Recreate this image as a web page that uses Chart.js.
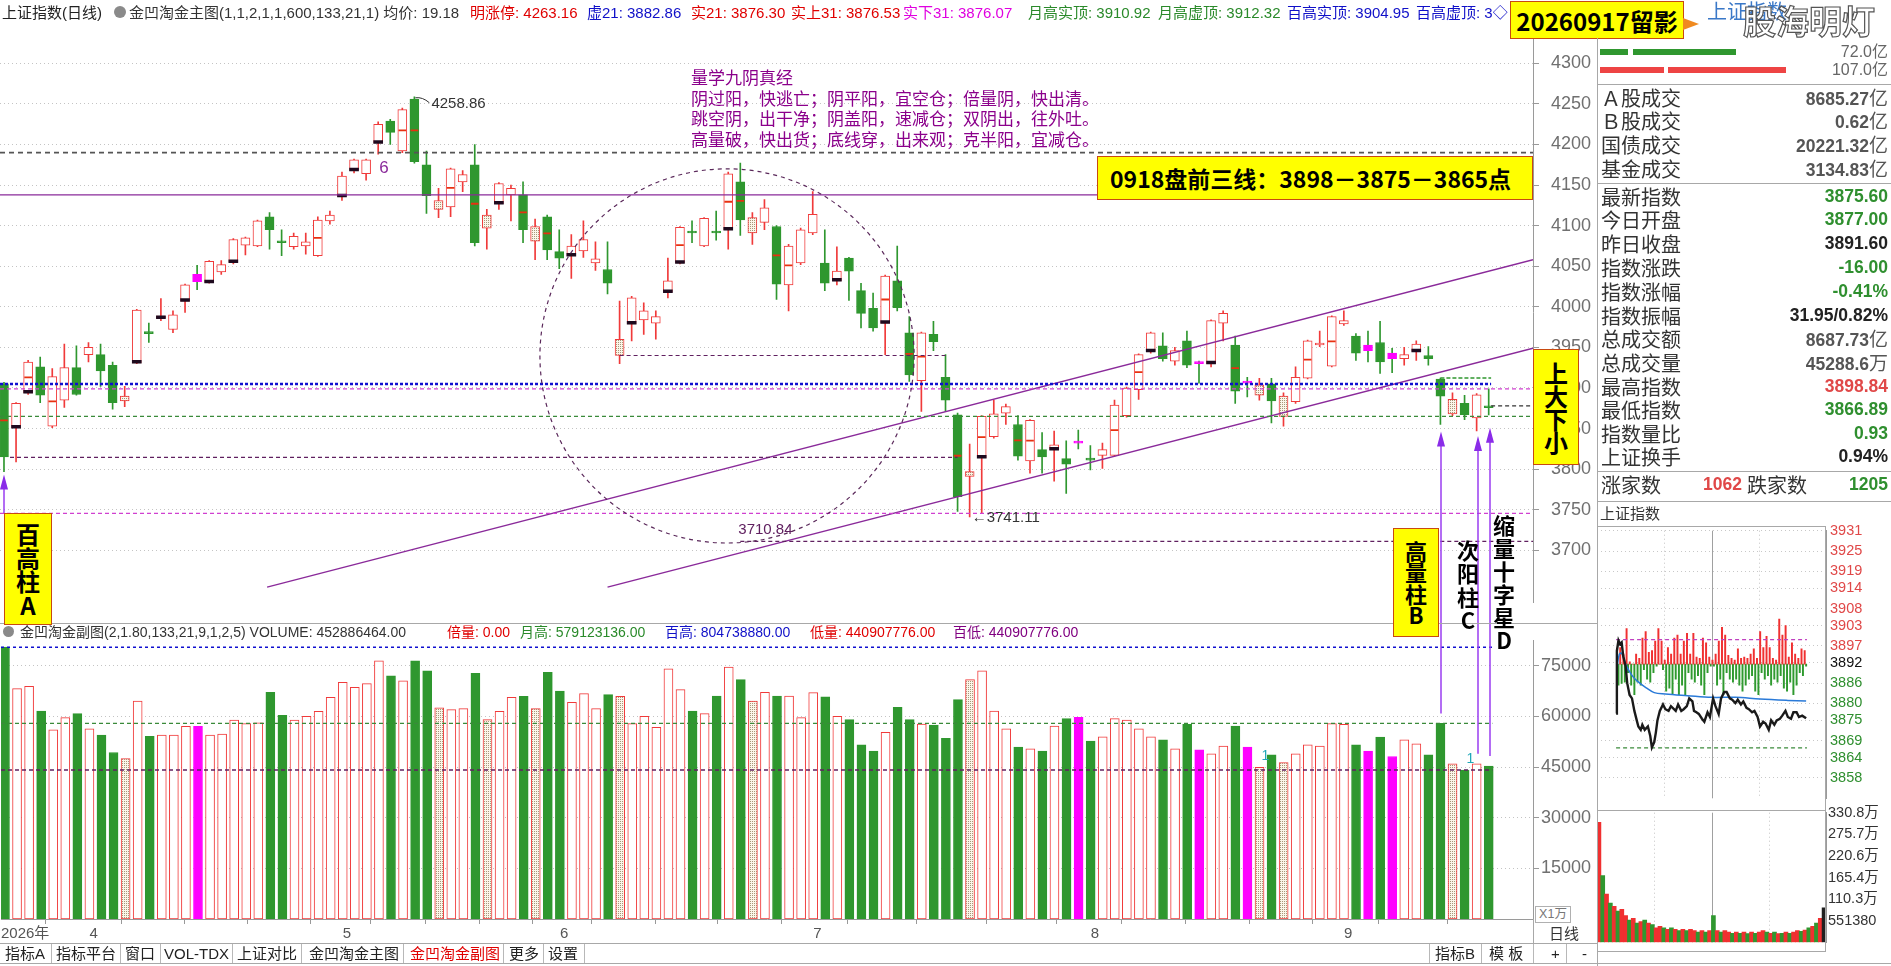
<!DOCTYPE html>
<html>
<head>
<meta charset="utf-8">
<title>上证指数(日线)</title>
<script src="https://cdn.jsdelivr.net/npm/chart.js@4.4.1/dist/chart.umd.min.js"></script>
<style>
  html, body { margin:0; padding:0; background:#fff; }
  body { width:1891px; height:966px; overflow:hidden; position:relative;
         font-family:"Liberation Sans","Noto Sans CJK SC",sans-serif; color:#333; }
  canvas { position:absolute; }
  .t { position:absolute; white-space:nowrap; line-height:1; transform:translateY(-50%); }
  .ln { position:absolute; background:#a8a8a8; }
  .ybox { position:absolute; background:#ffff00; border:1.5px solid #c84a10; box-sizing:border-box;
          font-family:"Noto Sans CJK SC",sans-serif; font-weight:bold; color:#000;
          display:flex; flex-direction:column; align-items:center; justify-content:center; }
  .vtxt { position:absolute; font-family:"Noto Sans CJK SC",sans-serif; font-weight:bold; color:#000;
          text-align:center; display:flex; flex-direction:column; align-items:center; }
</style>
</head>
<body>
<canvas id="main" width="1597" height="625" style="left:0;top:0"></canvas>
<canvas id="vol" width="1597" height="320" style="left:0;top:625px"></canvas>
<canvas id="intra" width="294" height="293" style="left:1597px;top:518px"></canvas>
<canvas id="intraVol" width="294" height="151" style="left:1597px;top:802px"></canvas>
<canvas id="over" width="1891" height="966" style="left:0;top:0"></canvas>
<div id="ui"></div>
<script>
// ---------- daily bars (上证指数 日线), 124 trading days ----------
const openP = [3905,3851,3894,3926,3853,3885,3925,3941,3941,3928,3884,3931,3969,3986,3972,4007,4040,4030,4043,4055,
  4076,4075,4111,4081,4074,4075,4063,4106,4136,4168,4164,4202,4229,4192,4256,4175,4120,4123,4154,4175,
  4097,4127,4138,4138,4081,4111,4068,4063,4069,4054,4046,3940,3979,3984,3980,4018,4054,4093,4075,4093,
  4095,4154,4091,4104,4099,4027,4054,4091,4054,4032,4060,4020,3998,3980,4032,3968,3909,3966,3913,3867,
  3791,3814,3840,3869,3855,3810,3824,3824,3813,3834,3813,3817,3817,3866,3898,3945,3952,3933,3958,3932,
  3930,3980,3953,3908,3891,3905,3865,3883,3912,3953,3927,3979,3964,3953,3956,3943,3936,3945,3940,3911,
  3868,3881,3863,3877];
const highP = [3907,3882,3934,3938,3924,3954,3952,3956,3954,3932,3902,3997,3980,4010,3995,4028,4051,4057,4057,4084,
  4086,4107,4116,4095,4091,4091,4111,4118,4166,4182,4182,4228,4231,4245,4258.86,4192,4146,4171,4168,4200,
  4120,4153,4150,4154,4108,4113,4095,4089,4106,4080,4080,4007,4013,4005,3995,4060,4099,4106,4110,4118,
  4166,4177,4116,4132,4100,4077,4097,4142,4095,4074,4061,4029,4017,4039,4075,3988,3969,3982,3941,3869,
  3831,3866,3885,3880,3866,3861,3845,3847,3835,3848,3829,3832,3885,3901,3942,3969,3968,3950,3970,3933,
  3984,3995,3964,3913,3912,3912,3894,3926,3959,3970,3989,3995,3967,3970,3982,3949,3950,3958,3951,3912.3,
  3894,3891,3893,3898.84];
const lowP = [3797,3809,3892,3882,3851,3876,3891,3932,3902,3874,3877,3930,3956,3983,3968,3993,4021,4029,4040,4053,
  4064,4074,4071,4063,4071,4065,4062,4102,4131,4165,4156,4188,4200,4190,4177,4115,4110,4111,4142,4075,
  4071,4120,4106,4079,4058,4058,4047,4035,4061,4045,4016,3930,3958,3966,3960,4011,4053,4079,4074,4082,
  4071,4088,4077,4095,4009,3995,4052,4089,4020,4027,4008,3974,3970,3941,3995,3908,3871,3946,3871,3748,
  3741.11,3745,3838,3855,3811,3795,3795,3785,3770,3825,3799,3801,3816,3864,3886,3943,3933,3928,3925,3906,
  3926,3958,3881,3889,3885,3857,3853,3881,3911,3951,3926,3977,3934,3932,3918,3919,3928,3934,3928,3855,
  3866,3861,3847,3866.89];
const closeP = [3815,3881,3932,3891,3914,3925,3892,3950,3921,3882,3890,3996,3967,3988,3990,4027,4031,4056,4052,4083,
  4085,4106,4095,4079,4087,4080,4107,4113,4161,4181,4181,4225,4215,4243,4179,4137,4131,4170,4163,4079,
  4113,4152,4146,4095,4099,4070,4060,4075,4083,4059,4029,3960,4011,3995,3988,4032,4098,4091,4109,4091,
  4164,4107,4110,4122,4028,4075,4095,4114,4029,4044,4044,3992,3974,4038,3999,3916,3968,3957,3885,3766,
  3797,3865,3868,3877,3816,3860,3815,3830,3806,3832,3811,3824,3879,3900,3941,3968,3936,3946,3928,3930,
  3983,3992,3896,3906,3904,3884,3890,3913,3958,3955,3988,3983,3943,3946,3932,3936,3941,3954,3936,3890,
  3886,3867,3891.6,3875.6];
// volume, unit 万股 (X1万)
const volume = [80474,68220,68900,61580,56030,59600,60790,56330,54450,49300,47520,64550,54050,54450,54450,57020,57020,54450,54750,58900,
  57820,58110,67120,60290,58900,60000,61480,65640,70090,68600,69700,76420,71960,70480,76420,73450,62550,61970,62260,72760,
  59010,61480,65640,65930,62260,73060,67510,64150,66730,62260,66430,65930,57820,60000,56730,74050,67910,61580,60790,66030,
  74550,70880,64550,67120,66030,66030,59600,67020,65740,60000,59010,51580,49700,55240,62670,59010,57720,57420,53460,64940,
  70880,73450,61580,56330,50880,50390,49700,57130,59300,59700,52660,53960,59300,58900,56330,53960,53070,50390,57620,50100,
  48910,51180,57130,50880,44940,48610,46330,48910,51580,51180,57820,57620,51580,49700,53860,48110,53070,51880,48610,57912,
  45940,44091,45940,45289];
const magentaIdx = [16, 89, 99, 103, 113, 115];
const dottedIdx = [10, 36, 40, 44, 51, 62, 80, 104, 106, 120];
const blackIdx = [1, 2, 11, 13, 15, 17, 19, 28, 29, 31, 41, 47, 52, 55, 56, 60, 69, 73, 81, 87, 95, 100, 117];
const midIdx = [0, 2, 4, 26, 33, 34, 37, 39, 43, 45, 56, 60, 61, 64, 65, 73, 75, 76, 79, 81, 84, 85, 92, 94, 102, 108, 110];

const monthStart = [7, 28, 46, 67, 90, 111];
const monthLabel = ['4', '5', '6', '7', '8', '9'];
const weekTicks = [12.3, 17.5, 22.7, 32.6, 37.1, 41.5, 51.3, 56.5, 61.7, 72.7, 78.5, 84.3, 95.1, 100.6, 105.8, 116.7];
const priceTicks = [4300, 4250, 4200, 4150, 4100, 4050, 4000, 3950, 3900, 3850, 3800, 3750, 3700];
const volTicks = [15000, 30000, 45000, 60000, 75000];

// reference levels on the price panel
const levelVal  = [4190, 4138, 3904.95, 3899, 3865, 3814.5, 3745.5, 3710.84, 3940, 3912.32, 3878];
const levelFrom = [-0.33, -0.33, -0.33, -0.33, -0.33, 0.5, -0.33, 61, 51, 119, 123.2];
const levelTo   = [126.67, 126.67, 123.2, 126.67, 126.67, 79, 126.67, 126.67, 78, 123.2, 126.67];
const chanUpper = [[21.8, 3654.6], [126.67, 4058]];
const chanLower = [[50.0, 3654.6], [126.67, 3949]];
const circleC = [59.9, 3939.5], circleR = 15.5;
const volLevelVal = [80474, 57912, 44091];
const volMarkIdx = [104, 121];
const arrowIdx = [0, 119, 122, 123];

// ---------- intraday (分时) ----------
const prevClose = 3891.6;
const intraMin = [0,1,3,5,7,9,12,14,17,20,23,26,28,31,33,36,40,43,45,48,50,52,55,59,62,66,69,75,78,82,85,89,92,96,98,101,104,108,111,115,118,
  122,125,129,132,136,139,143,146,150,153,157,160,164,167,171,174,178,181,185,188,192,195,199,202,206,209,213,216,220,223,227,230,234,239];
const intraPrice = [3877.0,3895.5,3898.6,3897.5,3898.0,3894.0,3891.0,3886.0,3882.5,3881.5,3877.8,3875.0,3873.2,3872.2,3873.7,3872.2,3873.2,3870.4,3867.0,3868.6,
  3871.4,3875.0,3877.8,3879.7,3878.3,3877.8,3879.2,3877.8,3879.7,3877.8,3878.3,3879.2,3881.5,3880.6,3877.8,3877.4,3876.9,3875.5,3874.6,3877.4,
  3876.0,3881.5,3879.2,3876.9,3881.5,3883.4,3883.4,3881.5,3881.1,3880.1,3881.1,3879.7,3880.6,3878.7,3878.3,3877.4,3877.8,3876.0,3873.2,3874.6,
  3874.1,3872.2,3875.0,3873.7,3875.0,3875.5,3876.4,3877.8,3876.0,3875.5,3877.4,3877.4,3876.0,3876.4,3875.6];
const intraAvgMin = [1,4,7,13,20,27,38,48,62,90,120,150,181,216,239];
const intraAvg = [3890,3894.5,3894.8,3891.1,3888.3,3886.5,3884.6,3883.2,3882.8,3882.3,3881.8,3881.8,3881.3,3880.9,3880.7];
const breadthUp = [0,4.9,3,10.5,0.7,0,3,1.7,7.7,9.6, 3.5,4,6.8,10.5,6.8,1.2,4.9,3,7.7,8.6, 3,6.8,9.1,3,9.1,2.1,1.7,7.7,6.3,2.1,
  1.2,3,6.8,10.9,8.6,2.6,1.7,1.2,4.5,1.7, 2.1,1.7,3,4.5,1.7,9.6,4.9,8.2,4.9,1.7, 1.2,13.3,8.6,11.4,2.1,6.3,3,1.7,4.5,4];
const breadthDn = [-6.2,-5.7,-5.3,-2.5,-6.2,-9,-5.3,-6.2,-1.6,-4.4, -5.3,-2.5,-0.6,0,-1.6,-8,-7.1,-9,-4.4,-9, -6.2,-9,-2.5,-4.4,-5.3,-3.4,-6.2,-9,-2.5,-0.6,
  -0.6,-6.2,-4.4,-9,-2.5,-4.4,-5.3,-4.4,-6.2,-8, -6.2,-4.4,-3.4,-8,-9,-2.5,-4.4,-3.4,-6.2,-4.4, -5.3,-3.4,-7.1,-8,-5.3,-9,-6.2,-2.5,-3.4,-0.6];
const intraVol = [306,170,123,100,92,80,84,68,57,61, 49,53,57,49,45,37,41,37,33,37, 33,30,33,30,33,30,26,30,26,30,
  68,30,26,30,26,23,26,23,26,22, 26,23,26,30,26,23,26,22,23,26, 23,26,30,28,31,37,41,49,61,88];
const intraVolKind = 'rgrgrgrrgr' + 'grgrgrrgrg' + 'rgrgrrgrgr' + 'grgrrgrgrg' + 'rgrrgrgrgr' + 'grrgrgrgrk';
const intraTicks = [3931,3925,3919,3914,3908,3903,3897,3892,3886,3880,3875,3869,3864,3858];
const intraVolTicks = [330.8, 275.7, 220.6, 165.4, 110.3, 55.138];
const intraVolLabels = ['330.8万','275.7万','220.6万','165.4万','110.3万','551380'];
const dayHigh = 3898.84, dayLow = 3866.89;

// ---------- styles ----------
const RED = '#f03a3a', GREEN = '#2f972f', MAG = '#ff00ff', PURPLE = '#8a2a9a';
Chart.defaults.font.family = '"Liberation Sans","Noto Sans CJK SC",sans-serif';
Chart.defaults.animation = false;
Chart.defaults.events = [];
Chart.defaults.plugins.legend.display = false;
Chart.defaults.plugins.tooltip.enabled = false;

function dotPattern() {
  const c = document.createElement('canvas'); c.width = 2; c.height = 2;
  const g = c.getContext('2d');
  g.fillStyle = '#fbf6ea'; g.fillRect(0, 0, 2, 2);
  g.fillStyle = '#a8987a'; g.fillRect(0, 0, 1, 1);
  return g.createPattern(c, 'repeat');
}
const dots = dotPattern();
const idx = openP.map((_, i) => i);
const kinds = idx.map(i => magentaIdx.includes(i) ? 'm' : dottedIdx.includes(i) ? 'd' : (closeP[i] >= openP[i] ? 'r' : 'g'));
const fillOf = { r: '#ffffff', g: GREEN, m: MAG, d: dots };
const lineOf = { r: RED, g: GREEN, m: MAG, d: RED };
const wickOf = i => kinds[i] === 'g' || (kinds[i] === 'm' && closeP[i] < openP[i]) ? GREEN : (kinds[i] === 'm' ? MAG : RED);

const levelStyle = [
  { c: '#555555', w: 1.6, d: [5, 4] },
  { c: PURPLE,    w: 1.3, d: [] },
  { c: '#1010d0', w: 2.5, d: [3, 2] },
  { c: '#d040d0', w: 1.3, d: [4, 3] },
  { c: '#3a8a3a', w: 1.3, d: [4, 3] },
  { c: '#602060', w: 1.3, d: [4, 3] },
  { c: '#d040d0', w: 1.3, d: [4, 3] },
  { c: '#602060', w: 1.3, d: [4, 3] },
  { c: '#602060', w: 1.2, d: [4, 3] },
  { c: '#2f972f', w: 1.6, d: [4, 2] },
  { c: '#333333', w: 1.2, d: [4, 3] }
];
const volLevelStyle = [
  { c: '#1010d0', w: 1.6, d: [3, 3] },
  { c: '#3a8a3a', w: 1.3, d: [4, 3] },
  { c: '#602060', w: 1.6, d: [4, 3] }
];
const seg = (pts, st, extra) => Object.assign({ type: 'line', data: pts.map(p => ({ x: p[0], y: p[1] })),
  borderColor: st.c, borderWidth: st.w, borderDash: st.d, pointRadius: 0, order: 0 }, extra || {});

// ---------- main price chart ----------
const mainDatasets = [
  { type: 'bar', data: idx.map(i => ({ x: i, y: [lowP[i], highP[i]] })), backgroundColor: idx.map(wickOf),
    barThickness: 1, grouped: false, order: 5 },
  { type: 'bar', data: idx.map(i => ({ x: i, y: [Math.min(openP[i], closeP[i]), Math.max(openP[i], closeP[i])] })),
    backgroundColor: idx.map(i => fillOf[kinds[i]]), borderColor: idx.map(i => lineOf[kinds[i]]),
    borderWidth: 1, borderSkipped: false, barThickness: 9, minBarLength: 2, grouped: false, order: 4 },
  { type: 'bar', data: blackIdx.map(i => { const b = Math.min(openP[i], closeP[i]); return { x: i, y: [b - 0.5, b + 3] }; }),
    backgroundColor: '#1e0a1e', barThickness: 9, grouped: false, order: 3 },
  { type: 'bar', data: midIdx.map(i => { const m = (openP[i] + closeP[i]) / 2; return { x: i, y: [m - 0.7, m + 0.7] }; }),
    backgroundColor: '#e83010', barThickness: 7, grouped: false, order: 3 }
];
levelVal.forEach((v, k) => mainDatasets.push(seg([[levelFrom[k], v], [levelTo[k], v]], levelStyle[k])));
mainDatasets.push(seg(chanUpper, { c: PURPLE, w: 1.3, d: [] }));
mainDatasets.push(seg(chanLower, { c: PURPLE, w: 1.3, d: [] }));

const mainNotes = {
  id: 'mainNotes',
  afterDatasetsDraw(chart) {
    const { ctx, chartArea: a, scales: { x, y } } = chart;
    ctx.save();
    ctx.beginPath(); ctx.rect(a.left, a.top, a.right - a.left, a.bottom - a.top); ctx.clip();
    const cx = x.getPixelForValue(circleC[0]), cy = y.getPixelForValue(circleC[1]);
    const r = x.getPixelForValue(circleC[0] + circleR) - cx;
    ctx.setLineDash([4, 4]); ctx.strokeStyle = '#5a285a'; ctx.lineWidth = 1.2;
    ctx.beginPath(); ctx.arc(cx, cy, r, 0, Math.PI * 2); ctx.stroke();
    ctx.setLineDash([]);
    ctx.textBaseline = 'middle'; ctx.fillStyle = '#333'; ctx.strokeStyle = '#333'; ctx.lineWidth = 1;
    ctx.font = '15px "Liberation Sans"';
    // peak
    const pk = highP.indexOf(Math.max(...highP));
    const hx = x.getPixelForValue(pk), hy = y.getPixelForValue(highP[pk]);
    ctx.beginPath(); ctx.moveTo(hx + 1, hy + 1); ctx.quadraticCurveTo(hx + 8, hy, hx + 15, hy + 6); ctx.stroke();
    ctx.fillText(highP[pk].toFixed(2), hx + 17, hy + 7);
    // trough
    const lo = lowP.indexOf(Math.min(...lowP));
    const lx = x.getPixelForValue(lo), ly = y.getPixelForValue(lowP[lo]);
    ctx.fillText('←' + lowP[lo].toFixed(2), lx + 2, ly + 1);
    // channel low
    ctx.fillStyle = '#602060';
    ctx.fillText(levelVal[7].toFixed(2), x.getPixelForValue(levelFrom[7]) - 2, y.getPixelForValue(levelVal[7]) - 12);
    ctx.fillStyle = PURPLE; ctx.font = '17px "Liberation Sans"';
    ctx.fillText('6', x.getPixelForValue(31) + 1, y.getPixelForValue(lowP[31]) + 14);
    ctx.restore();
  }
};

const mainChart = new Chart(document.getElementById('main'), {
  type: 'bar',
  data: { datasets: mainDatasets },
  options: {
    responsive: false,
    layout: { padding: { top: 22, bottom: 3, left: 0, right: 0 } },
    scales: {
      x: { type: 'linear', min: -0.33, max: 126.67, offset: false, display: false },
      y: { type: 'linear', position: 'right', min: 3636, max: 4350,
        afterFit: s => { s.width = 64; },
        afterBuildTicks: s => { s.ticks = priceTicks.map(v => ({ value: v })); },
        ticks: { crossAlign: 'near', padding: 12, color: '#707070', font: { size: 18 }, callback: v => String(v) },
        grid: { color: '#c4c4c4', tickLength: 6, tickColor: '#999' },
        border: { color: '#9a9a9a', dash: [1, 3] } }
    }
  },
  plugins: [mainNotes]
});

// ---------- volume chart ----------
const volDatasets = [
  { type: 'bar', data: idx.map(i => ({ x: i, y: volume[i] })), backgroundColor: idx.map(i => fillOf[kinds[i]]),
    borderColor: idx.map(i => lineOf[kinds[i]]), borderWidth: 1, borderSkipped: false, barThickness: 9, grouped: false, order: 2 }
];
volLevelVal.forEach((v, k) => volDatasets.push(seg([[-0.33, v], [123.3, v]], volLevelStyle[k])));

const volNotes = {
  id: 'volNotes',
  afterDatasetsDraw(chart) {
    const { ctx, scales: { x, y } } = chart;
    ctx.save(); ctx.fillStyle = '#20a8b8'; ctx.font = '14px "Liberation Sans"'; ctx.textBaseline = 'middle';
    volMarkIdx.forEach(i => ctx.fillText('1', x.getPixelForValue(i) + 2, y.getPixelForValue(volume[i]) - 11));
    ctx.restore();
  }
};
const labelFor = v => {
  if (Math.abs(v + 0.33) < 0.01) return '2026年';
  const j = monthStart.findIndex(m => Math.abs(m - v) < 0.01);
  return j >= 0 ? monthLabel[j] : '';
};
const volChart = new Chart(document.getElementById('vol'), {
  type: 'bar',
  data: { datasets: volDatasets },
  options: {
    responsive: false,
    layout: { padding: { top: 15, bottom: 0, left: 0, right: 0 } },
    scales: {
      x: { type: 'linear', min: -0.33, max: 126.67, offset: false, position: 'bottom',
        afterFit: s => { s.height = 26; },
        afterBuildTicks: s => { s.ticks = [-0.33].concat(monthStart, weekTicks).sort((a, b) => a - b).map(v => ({ value: v })); },
        ticks: { autoSkip: false, maxRotation: 0, align: 'start', padding: 1, color: '#555', font: { size: 15 }, callback: labelFor },
        grid: { drawOnChartArea: false, tickLength: 5, color: '#999' },
        border: { color: '#9a9a9a' } },
      y: { type: 'linear', position: 'right', min: 0, max: 82600,
        afterFit: s => { s.width = 64; },
        afterBuildTicks: s => { s.ticks = volTicks.map(v => ({ value: v })); },
        ticks: { crossAlign: 'near', padding: 2, color: '#707070', font: { size: 18 }, callback: v => String(v) },
        grid: { color: '#c4c4c4', tickLength: 6, tickColor: '#999' },
        border: { color: '#9a9a9a', dash: [1, 3] } }
    }
  },
  plugins: [volNotes]
});

// ---------- intraday charts ----------
const intraGridMin = [60, 120, 180];
const intraGrid = {
  id: 'intraGrid',
  beforeDatasetsDraw(chart) {
    const { ctx, chartArea: a, scales: { x } } = chart;
    ctx.save(); ctx.lineWidth = 1;
    intraGridMin.forEach(m => {
      const px = Math.round(x.getPixelForValue(m)) + 0.5;
      ctx.strokeStyle = m === 120 ? '#a0a0a0' : '#c4c4c4';
      ctx.setLineDash(m === 120 ? [] : [1, 3]);
      ctx.beginPath(); ctx.moveTo(px, a.top); ctx.lineTo(px, a.bottom); ctx.stroke();
    });
    ctx.restore();
  }
};
const intraColor = v => v > 3892 ? '#e04848' : (v === 3892 ? '#111' : '#2f8f2f');
new Chart(document.getElementById('intra'), {
  type: 'bar',
  data: { datasets: [
    { type: 'line', data: intraMin.map((m, k) => ({ x: m, y: intraPrice[k] })), borderColor: '#1a1a1a', borderWidth: 2.4, pointRadius: 0, order: 0 },
    { type: 'line', data: intraAvgMin.map((m, k) => ({ x: m, y: intraAvg[k] })), borderColor: '#2a7ad8', borderWidth: 1.5, pointRadius: 0, tension: 0.35, order: 1 },
    seg([[0, dayHigh], [240, dayHigh]], { c: '#c040c0', w: 1.2, d: [4, 3] }, { order: 2 }),
    seg([[0, dayLow], [240, dayLow]], { c: '#3a8a3a', w: 1.2, d: [4, 3] }, { order: 2 }),
    { type: 'bar', data: breadthUp.map((v, k) => ({ x: 4 * k + 1.2, y: [prevClose, prevClose + v] })), backgroundColor: '#f03030', barThickness: 1.3, grouped: false, order: 3 },
    { type: 'bar', data: breadthDn.map((v, k) => ({ x: 4 * k + 3, y: [prevClose + v, prevClose] })), backgroundColor: '#2f9a2f', barThickness: 1.3, grouped: false, order: 3 }
  ] },
  options: {
    responsive: false,
    layout: { padding: { top: 8.7, bottom: 0.3, left: 0, right: 0 } },
    scales: {
      x: { type: 'linear', min: 0, max: 240, display: false },
      y: { type: 'linear', position: 'right', min: 3852, max: 3931,
        afterFit: s => { s.width = 65; },
        afterBuildTicks: s => { s.ticks = intraTicks.map(v => ({ value: v })); },
        ticks: { padding: 4, color: c => intraColor(c.tick.value), font: { size: 14.5 }, callback: v => String(v) },
        grid: { color: '#c8c8c8', drawTicks: false },
        border: { color: '#9a9a9a', dash: [1, 3] } }
    }
  },
  plugins: [intraGrid]
});
const ivColor = { r: '#f03030', g: '#2f972f', k: '#202020' };
new Chart(document.getElementById('intraVol'), {
  type: 'bar',
  data: { datasets: [
    { data: intraVol.map((v, k) => ({ x: 4 * k + 2, y: v })), backgroundColor: intraVol.map((v, k) => ivColor[intraVolKind[k]]), barThickness: 4 }
  ] },
  options: {
    responsive: false,
    layout: { padding: { top: 8.7, bottom: 0.3, left: 0, right: 0 } },
    scales: {
      x: { type: 'linear', min: 0, max: 240, offset: false, display: false },
      y: { type: 'linear', position: 'right', min: 0, max: 330.8,
        afterFit: s => { s.width = 65; },
        afterBuildTicks: s => { s.ticks = intraVolTicks.map(v => ({ value: v })); },
        ticks: { padding: 2, color: '#333', font: { size: 14.5 }, callback: (v, k) => intraVolLabels[k] },
        grid: { drawOnChartArea: false, drawTicks: false },
        border: { color: '#9a9a9a' } }
    }
  },
  plugins: [intraGrid]
});

// ---------- arrows from volume bars up to the candles ----------
(function drawArrows() {
  const g = document.getElementById('over').getContext('2d');
  const mx = mainChart.scales.x, my = mainChart.scales.y, vy = volChart.scales.y;
  const tipGap = [3, 7, 5, 13];
  arrowIdx.forEach((i, k) => {
    const px = Math.round(mx.getPixelForValue(i)) + (k ? 1 : 0);
    const tip = my.getPixelForValue(lowP[i]) + tipGap[k];
    const tail = k ? 625 + vy.getPixelForValue(volume[i]) - 10 : 513;
    g.strokeStyle = '#9a3cf0'; g.fillStyle = '#8a2ce8'; g.lineWidth = 1.5;
    g.beginPath(); g.moveTo(px, tail); g.lineTo(px, tip + 10); g.stroke();
    g.beginPath(); g.moveTo(px, tip); g.lineTo(px - 4, tip + 15); g.lineTo(px + 4, tip + 15); g.closePath(); g.fill();
  });
})();

// ---------- text, panels and boxes ----------
const ui = document.getElementById('ui');
function el(cls, css, html) {
  const d = document.createElement('div'); d.className = cls; d.style.cssText = css; if (html !== undefined) d.innerHTML = html;
  ui.appendChild(d); return d;
}
const txt = (s, x, y, css) => el('t', `left:${x}px;top:${y}px;${css || ''}`, s);
const rtxt = (s, r, y, css) => el('t', `right:${r}px;top:${y}px;${css || ''}`, s);
const hline = (x, y, w, c) => el('ln', `left:${x}px;top:${y}px;width:${w}px;height:1px;${c ? 'background:' + c : ''}`);
const vline = (x, y, h, c) => el('ln', `left:${x}px;top:${y}px;width:1px;height:${h}px;${c ? 'background:' + c : ''}`);

// header row
[['上证指数(日线)', 2, '#222'], ['金凹淘金主图(1,1,2,1,1,600,133,21,1) 均价: 19.18', 129, '#333'],
 ['明涨停: 4263.16', 470, '#e00000'], ['虚21: 3882.86', 587, '#1010c8'], ['实21: 3876.30', 691, '#e00000'],
 ['实上31: 3876.53', 791, '#e00000'], ['实下31: 3876.07', 903, '#e000e0'], ['月高实顶: 3910.92', 1028, '#2a8a2a'],
 ['月高虚顶: 3912.32', 1158, '#2a8a2a'], ['百高实顶: 3904.95', 1287, '#1010c8'], ['百高虚顶: 3◇', 1416, '#1010c8']]
  .forEach(h => txt(h[0], h[1], 12, `font-size:15px;color:${h[2]}`));
el('', 'position:absolute;left:114px;top:6px;width:12px;height:12px;border-radius:6px;background:#8a8a8a');
el('', 'position:absolute;left:3px;top:626px;width:11px;height:11px;border-radius:6px;background:#8a8a8a');

// volume header
hline(0, 623, 1597);
[['金凹淘金副图(2,1.80,133,21,9,1,2,5) VOLUME: 452886464.00', 20, '#333'], ['倍量: 0.00', 447, '#e00000'],
 ['月高: 579123136.00', 520, '#2a8a2a'], ['百高: 804738880.00', 665, '#1010c8'], ['低量: 440907776.00', 810, '#e00000'],
 ['百低: 440907776.00', 953, '#800080']].forEach(h => txt(h[0], h[1], 632, `font-size:14px;color:${h[2]}`));

// verse block
['量学九阴真经', '阴过阳，快逃亡；阴平阳，宜空仓；倍量阴，快出清。', '跳空阴，出干净；阴盖阳，速减仓；双阴出，往外吐。',
 '高量破，快出货；底线穿，出来观；克半阳，宜减仓。'].forEach((s, k) =>
  txt(s, 691, 76 + k * 20.5, 'font-size:17px;color:#8b008b;font-family:"Noto Sans CJK SC"'));

// yellow boxes
el('ybox', 'left:1097px;top:156px;width:436px;height:44px;align-items:flex-start;padding-left:12px;font-size:23px',
  '0918盘前三线：3898－3875－3865点');
el('ybox', 'left:1510px;top:1px;width:174px;height:38px;font-size:24px', '20260917留影');
el('', 'position:absolute;left:1683px;top:18px;width:0;height:0;border-top:6px solid transparent;border-bottom:6px solid transparent;border-left:16px solid #f08a20');
const vbox = (chars, css, lh) => el('ybox', css + `;line-height:${lh}px`, chars.split('').map(c => `<span>${c}</span>`).join(''));
vbox('百高柱A', 'left:4px;top:513px;width:48px;height:112px;font-size:24px', 23.5);
vbox('高量柱B', 'left:1393px;top:528px;width:46px;height:109px;font-size:22px', 21.5);
vbox('上大下小', 'left:1533px;top:349px;width:46px;height:116px;font-size:24px', 23);
el('vtxt', 'left:1456px;top:538px;width:24px;font-size:22px;line-height:23.3px', '次<br>阳<br>柱<br>C');
el('vtxt', 'left:1492px;top:513px;width:24px;font-size:22px;line-height:23px', '缩<br>量<br>十<br>字<br>星<br>D');

// date row, tabs
hline(0, 943, 1597); hline(0, 963, 1891);
vline(1533, 919, 44);
txt('日线', 1549, 933, 'font-size:15px;color:#333');
el('', 'position:absolute;left:1535px;top:906px;width:34px;height:15px;border:1px solid #b0b0b0;font-size:12.5px;color:#777;line-height:15px;text-align:center;background:#fff', 'X1万');
const tabs = ['指标A', '指标平台', '窗口', 'VOL-TDX', '上证对比', '金凹淘金主图', '金凹淘金副图', '更多', '设置'];
const tabX = [5, 56, 125, 164, 237, 309, 410, 509, 548];
const tabSep = [51, 120, 160, 232, 301, 403, 503, 543, 584];
tabs.forEach((s, k) => txt(s, tabX[k], 953, `font-size:15px;color:${k === 6 ? '#e00000' : '#222'}`));
tabSep.forEach(x => vline(x, 944, 19, '#b8b8b8'));
[['指标B', 1435], ['模 板', 1489], ['+', 1551], ['-', 1582]].forEach(t => txt(t[0], t[1], 953, 'font-size:15px;color:#222'));
[1429, 1481, 1533, 1566].forEach(x => vline(x, 944, 19, '#b8b8b8'));

// right panel
vline(1597, 38, 928);
txt('上证指数', 1707, 12, 'font-size:20px;color:#3a78c8');
txt('股海明灯', 1743, 20, 'font-size:33px;font-weight:bold;color:rgba(255,255,255,0.92);-webkit-text-stroke:1.2px #555;font-family:"Noto Sans CJK SC"');
el('', 'position:absolute;left:1600px;top:49px;width:28px;height:6px;background:#2f972f');
el('', 'position:absolute;left:1633px;top:49px;width:103px;height:6px;background:#2f972f');
el('', 'position:absolute;left:1600px;top:67px;width:64px;height:6px;background:#ee4444');
el('', 'position:absolute;left:1668px;top:67px;width:118px;height:6px;background:#ee4444');
rtxt('72.0亿', 3, 52, 'font-size:16px;color:#666');
rtxt('107.0亿', 3, 70, 'font-size:16px;color:#666');
[84, 183, 471, 501].forEach(y => hline(1597, y, 294));

const statLabels = ['Ａ股成交', 'Ｂ股成交', '国债成交', '基金成交', '最新指数', '今日开盘', '昨日收盘', '指数涨跌', '指数涨幅',
  '指数振幅', '总成交额', '总成交量', '最高指数', '最低指数', '指数量比', '上证换手'];
const statValues = ['8685.27', '0.62', '20221.32', '3134.83', '3875.60', '3877.00', '3891.60', '-16.00', '-0.41%',
  '31.95/0.82%', '8687.73', '45288.6', '3898.84', '3866.89', '0.93', '0.94%'];
const statUnits = ['亿', '亿', '亿', '亿', '', '', '', '', '', '', '亿', '万', '', '', '', ''];
const G = '#2f8f2f', R = '#e04848';
const statColor = ['#555', '#555', '#555', '#555', G, G, '#222', G, G, '#222', '#555', '#555', R, G, G, '#222'];
const statY = [98, 121, 145, 169, 197, 220, 244, 268, 292, 316, 339, 363, 387, 410, 434, 457];
statLabels.forEach((s, k) => {
  txt(s, 1601, statY[k], 'font-size:20px;color:#333;font-family:"Noto Sans CJK SC"');
  rtxt(`<b>${statValues[k]}</b>${statUnits[k] ? `<span style="font-size:19px;font-family:'Noto Sans CJK SC'">${statUnits[k]}</span>` : ''}`,
    3, statY[k], `font-size:17.5px;color:${statColor[k]}`);
});
txt('涨家数', 1601, 485, 'font-size:20px;color:#333;font-family:"Noto Sans CJK SC"');
txt('<b>1062</b>', 1703, 485, `font-size:17.5px;color:${R}`);
txt('跌家数', 1747, 485, 'font-size:20px;color:#333;font-family:"Noto Sans CJK SC"');
rtxt('<b>1205</b>', 3, 485, `font-size:17.5px;color:${G}`);
txt('上证指数', 1600, 513, 'font-size:15px;color:#333');
el('', 'position:absolute;left:1597px;top:526px;width:229px;height:426px;border:1px solid #a8a8a8;box-sizing:border-box');
hline(1597, 810, 229);
</script>
</body>
</html>
